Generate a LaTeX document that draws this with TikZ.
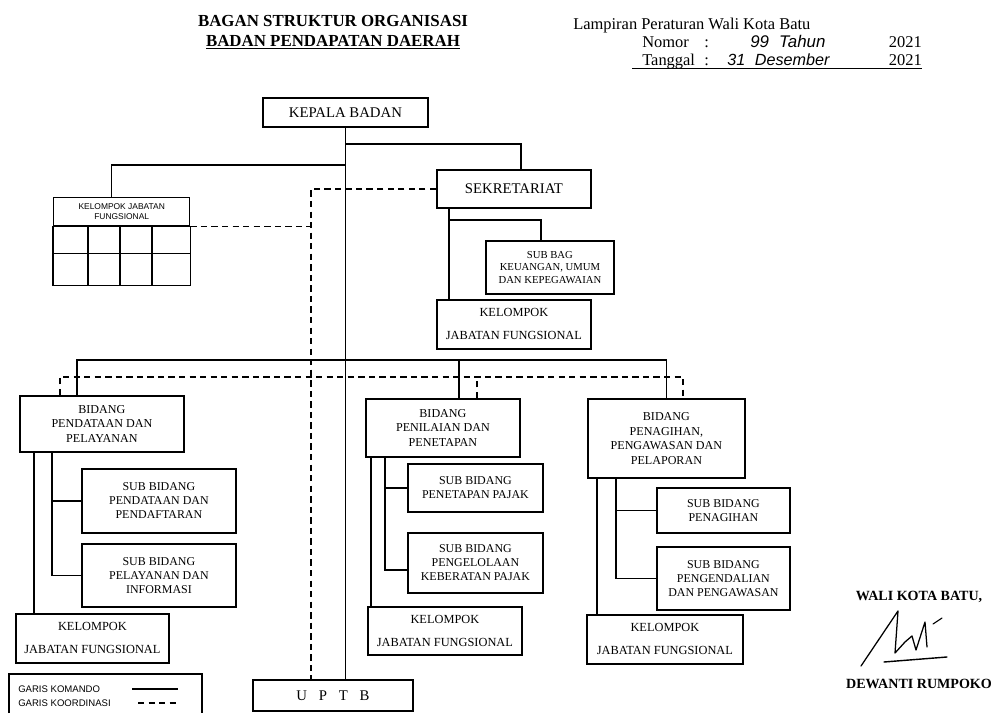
\documentclass[tikz,border=0pt]{standalone}
\usepackage{fontspec}
\setmainfont{Liberation Serif}
\setsansfont{Liberation Sans}
\usepackage{tikz}
\usetikzlibrary{arrows.meta}

\begin{document}
\begin{tikzpicture}[
	box/.style={rectangle,
		draw = black,
		line width = 1.3pt,
		text = black,
		anchor = north west,
		fill = white,
		align = center,
		inner sep = 1pt},
	kepalatext/.style={font=\fontsize{10.5}{12}\selectfont},
	bidangtext/.style={font=\fontsize{8.6}{10.4}\selectfont},
	subtext/.style={font=\fontsize{8.5}{10}\selectfont},
	kjftext/.style={font=\fontsize{8.8}{16.3}\selectfont},
	komando/.style={line width = 1.1pt},
	koordinasi/.style={line width = 1.1pt, dash pattern = on 4.5pt off 3pt}
	]
	
	\useasboundingbox (0cm,0cm) rectangle (24.875cm,17.825cm);
	
	% kop
	\node[anchor = base, font=\bfseries\fontsize{12}{14}\selectfont] (judul1) at (8.325cm,17.1625cm) {BAGAN STRUKTUR ORGANISASI};
	\node[anchor = base, font=\bfseries\fontsize{12}{14}\selectfont] (judul2) at (8.325cm,16.6625cm) {\underline{BADAN PENDAPATAN DAERAH}};
	
	\node[anchor = base west, inner sep = 0pt, font=\fontsize{11.7}{13}\selectfont] (lampiran) at (14.325cm,17.075cm) {Lampiran Peraturan Wali Kota Batu};
	\node[anchor = base west, inner sep = 0pt, font=\fontsize{11.7}{13}\selectfont] (nomor) at (16.05cm,16.625cm) {Nomor};
	\node[anchor = base west, inner sep = 0pt, font=\fontsize{11.7}{13}\selectfont] (titik1) at (17.6cm,16.625cm) {:};
	\node[anchor = base west, inner sep = 0pt, font=\sffamily\itshape\fontsize{12}{13}\selectfont] (nomortahun) at (18.75cm,16.625cm) {99\hspace{0.6em}Tahun};
	\node[anchor = base east, inner sep = 0pt, font=\fontsize{11.7}{13}\selectfont] (tahun1) at (23.05cm,16.625cm) {2021};
	\node[anchor = base west, inner sep = 0pt, font=\fontsize{11.7}{13}\selectfont] (tanggal) at (16.05cm,16.175cm) {Tanggal};
	\node[anchor = base west, inner sep = 0pt, font=\fontsize{11.7}{13}\selectfont] (titik2) at (17.6cm,16.175cm) {:};
	\node[anchor = base west, inner sep = 0pt, font=\sffamily\itshape\fontsize{11.5}{13}\selectfont] (tgl) at (18.175cm,16.175cm) {31\hspace{0.6em}Desember};
	\node[anchor = base east, inner sep = 0pt, font=\fontsize{11.7}{13}\selectfont] (tahun2) at (23.05cm,16.175cm) {2021};
	\draw[line width = 0.9pt] ([xshift=-0.25cm,yshift=-0.06cm]tanggal.base west) -- ([yshift=-0.06cm]tahun2.base east);
	
	% pimpinan dan sekretariat
	\node[box, kepalatext,
	minimum width = 4.125cm,
	minimum height = 0.725cm] (kepala) at (6.55cm,15.4cm) {KEPALA BADAN};
	
	\node[box, kepalatext,
	minimum width = 3.85cm,
	minimum height = 0.95cm] (sekretariat) at (10.9cm,13.6cm) {SEKRETARIAT};
	
	\node[box, font=\sffamily\fontsize{6}{7}\selectfont,
	line width = 1pt,
	minimum width = 3.4cm,
	minimum height = 0.7cm] (kjfgrid) at (1.325cm,12.9cm) {KELOMPOK JABATAN \\ FUNGSIONAL};
	\draw[line width = 1pt] (kjfgrid.south west) rectangle ([yshift=-1.475cm]kjfgrid.south east);
	\draw[line width = 1pt] ([yshift=-0.675cm]kjfgrid.south west) -- ([yshift=-0.675cm]kjfgrid.south east);
	\foreach \dx in {0.875,1.675,2.475}
	\draw[line width = 1pt] ([xshift=\dx cm]kjfgrid.south west) -- ++(0,-1.475cm);
	
	\node[box, font=\fontsize{7.6}{9}\selectfont,
	minimum width = 3.2cm,
	minimum height = 1.325cm] (subbag) at (12.125cm,11.825cm) {SUB BAG \\ KEUANGAN, UMUM \\ DAN KEPEGAWAIAN};
	
	\node[box, kjftext,
	minimum width = 3.85cm,
	minimum height = 1.225cm] (kjfsek) at (10.9cm,10.35cm) {KELOMPOK \\ JABATAN FUNGSIONAL};
	
	% bidang pendataan dan pelayanan
	\node[box, bidangtext,
	minimum width = 4.1cm,
	minimum height = 1.4cm] (bidang1) at (0.475cm,7.95cm) {BIDANG \\ PENDATAAN DAN \\ PELAYANAN};
	
	\node[box, subtext,
	minimum width = 3.85cm,
	minimum height = 1.6cm] (subpendataan) at (2.025cm,6.125cm) {SUB BIDANG \\ PENDATAAN DAN \\ PENDAFTARAN};
	
	\node[box, subtext,
	minimum width = 3.85cm,
	minimum height = 1.575cm] (subpelayanan) at (2.025cm,4.25cm) {SUB BIDANG \\ PELAYANAN DAN \\ INFORMASI};
	
	\node[box, kjftext,
	minimum width = 3.825cm,
	minimum height = 1.225cm] (kjf1) at (0.375cm,2.5cm) {KELOMPOK \\ JABATAN FUNGSIONAL};
	
	% bidang penilaian dan penetapan
	\node[box, bidangtext,
	minimum width = 3.85cm,
	minimum height = 1.45cm] (bidang2) at (9.125cm,7.875cm) {BIDANG \\ PENILAIAN DAN \\ PENETAPAN};
	
	\node[box, subtext,
	minimum width = 3.375cm,
	minimum height = 1.2cm] (subpenetapan) at (10.175cm,6.25cm) {SUB BIDANG \\ PENETAPAN PAJAK};
	
	\node[box, subtext,
	minimum width = 3.375cm,
	minimum height = 1.5cm] (subkeberatan) at (10.175cm,4.525cm) {SUB BIDANG \\ PENGELOLAAN \\ KEBERATAN PAJAK};
	
	\node[box, kjftext,
	minimum width = 3.85cm,
	minimum height = 1.2cm] (kjf2) at (9.175cm,2.675cm) {KELOMPOK \\ JABATAN FUNGSIONAL};
	
	% bidang penagihan, pengawasan dan pelaporan
	\node[box, bidangtext,
	minimum width = 3.925cm,
	minimum height = 1.975cm] (bidang3) at (14.675cm,7.875cm) {BIDANG \\ PENAGIHAN, \\ PENGAWASAN DAN \\ PELAPORAN};
	
	\node[box, subtext,
	minimum width = 3.325cm,
	minimum height = 1.125cm] (subpenagihan) at (16.4cm,5.65cm) {SUB BIDANG \\ PENAGIHAN};
	
	\node[box, subtext,
	minimum width = 3.325cm,
	minimum height = 1.575cm] (subpengendalian) at (16.4cm,4.175cm) {SUB BIDANG \\ PENGENDALIAN \\ DAN PENGAWASAN};
	
	\node[box, kjftext,
	minimum width = 3.9cm,
	minimum height = 1.225cm] (kjf3) at (14.65cm,2.475cm) {KELOMPOK \\ JABATAN FUNGSIONAL};
	
	% uptb
	\node[box, kepalatext,
	minimum width = 4.0cm,
	minimum height = 0.775cm] (uptb) at (6.3cm,0.85cm) {U\hspace{0.8em}P\hspace{0.8em}T\hspace{0.8em}B};
	
	
	\coordinate (kom) at (0cm,8.825cm);
	\coordinate (kor) at (0cm,8.4cm);
	\coordinate (koord) at (7.775cm,0cm);
	
	% garis komando
	\draw[komando] (kepala.south) -- (kepala.south |- uptb.north);
	\draw[komando] ([yshift=-0.4cm]kepala.south) -| ([xshift=0.175cm]sekretariat.north);
	\draw[komando] ([yshift=-0.925cm]kepala.south) -| ([xshift=-0.25cm]kjfgrid.north);
	
	\draw[komando] ([xshift=0.325cm]sekretariat.south west) -- ([xshift=0.325cm]kjfsek.north west);
	\draw[komando] ([xshift=0.325cm,yshift=-0.275cm]sekretariat.south west) -| ([xshift=-0.225cm]subbag.north);
	
	\draw[komando] ([xshift=-0.625cm]bidang1.north) |- (kom -| bidang3.north) -- (bidang3.north);
	\draw[komando] ([xshift=0.4cm]bidang2.north) -- ([xshift=0.4cm]bidang2.north |- kom);
	
	\draw[komando] ([xshift=0.375cm]bidang1.south west) -- ([xshift=0.375cm]bidang1.south west |- kjf1.north);
	\draw[komando] ([xshift=0.825cm]bidang1.south west) |- (subpelayanan.west);
	\draw[komando] (subpendataan.west) -- ([xshift=0.825cm]bidang1.south west |- subpendataan.west);
	
	\draw[komando] ([xshift=0.15cm]bidang2.south west) -- ([xshift=0.15cm]bidang2.south west |- kjf2.north);
	\draw[komando] ([xshift=0.5cm]bidang2.south west) |- ([yshift=-0.175cm]subkeberatan.west);
	\draw[komando] (subpenetapan.west) -- ([xshift=0.5cm]bidang2.south west |- subpenetapan.west);
	
	\draw[komando] ([xshift=0.25cm]bidang3.south west) -- ([xshift=0.25cm]bidang3.south west |- kjf3.north);
	\draw[komando] ([xshift=0.725cm]bidang3.south west) |- (subpengendalian.west);
	\draw[komando] (subpenagihan.west) -- ([xshift=0.725cm]bidang3.south west |- subpenagihan.west);
	
	% garis koordinasi
	\draw[koordinasi] (sekretariat.west) -| (koord |- uptb.north);
	\draw[koordinasi] (kjfgrid.south east) -- (kjfgrid.south east -| koord);
	\draw[koordinasi] ([xshift=-1.05cm]bidang1.north) |- ([xshift=0.4125cm]bidang3.north |- kor) -- ([xshift=0.4125cm]bidang3.north);
	\draw[koordinasi] ([xshift=0.85cm]bidang2.north) -- ([xshift=0.85cm]bidang2.north |- kor);
	
	% keterangan
	\draw[line width = 1.2pt] (0.225cm,0cm) -- (0.225cm,0.975cm) -- (5.05cm,0.975cm) -- (5.05cm,0cm);
	\node[anchor = west, inner sep = 0pt, font=\sffamily\fontsize{6.8}{8}\selectfont] (ketkomando) at (0.45cm,0.6cm) {GARIS KOMANDO};
	\node[anchor = west, inner sep = 0pt, font=\sffamily\fontsize{6.8}{8}\selectfont] (ketkoordinasi) at (0.45cm,0.25cm) {GARIS KOORDINASI};
	\coordinate (kka) at (3.3cm,0.6cm);
	\coordinate (kkb) at (4.45cm,0.6cm);
	\coordinate (kra) at (3.45cm,0.25cm);
	\coordinate (krb) at (4.5cm,0.25cm);
	\draw[komando] (kka) -- (kkb);
	\draw[koordinasi] (kra) -- (krb);
	
	% pengesahan
	\node[anchor = base, inner sep = 0pt, font=\bfseries\fontsize{10}{12}\selectfont] (walikota) at (22.975cm,2.825cm) {WALI KOTA BATU,};
	\node[anchor = base, inner sep = 0pt, font=\bfseries\fontsize{10}{12}\selectfont] (nama) at (22.975cm,0.625cm) {DEWANTI RUMPOKO};
	\draw[line width = 0.9pt, line cap = round, line join = round] (21.525cm,1.175cm) -- (22.45cm,2.55cm) -- (22.375cm,1.5cm) -- (22.625cm,1.775cm) -- (22.8cm,1.925cm) -- (22.9cm,1.575cm) -- (23.125cm,2.275cm) -- (23.175cm,1.65cm);
	\draw[line width = 0.8pt, line cap = round] (23.325cm,2.225cm) -- (23.55cm,2.375cm);
	\draw[line width = 1pt, line cap = round] (22.1cm,1.275cm) -- (23.675cm,1.4cm);
	
\end{tikzpicture}
\end{document}
